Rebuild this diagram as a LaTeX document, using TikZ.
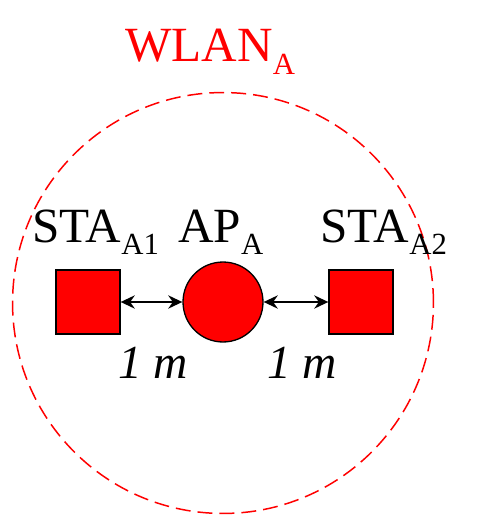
\documentclass[tikz,border=0pt]{standalone}
\usepackage{fontspec}
\setmainfont{Liberation Serif}
\usetikzlibrary{shapes, arrows.meta, positioning}

\newcommand{\lowsub}[1]{\raisebox{-7pt}{\fontsize{17.5}{20}\selectfont #1}}

\begin{document}
\begin{tikzpicture}[
        x=0.02cm, y=-0.02cm,
        station/.style={rectangle, draw, fill=red, line width=0.75pt, minimum size=1.28cm, inner sep=0pt},
        accesspoint/.style={circle, draw, fill=red, line width=0.75pt, minimum size=1.6cm, inner sep=0pt},
        tag/.style={anchor=base west, inner sep=0pt, font=\fontsize{28}{32}\selectfont},
        link/.style={line width=1.4pt, {Stealth[length=8pt,width=7.5pt]}-{Stealth[length=8pt,width=7.5pt]}},
        coverage/.style={draw=red, dash pattern=on 8.5pt off 4pt, line width=0.85pt}
    ]
    \useasboundingbox (0,0) rectangle (488,517);

    % Coverage area of the WLAN
    \node [coverage, circle, minimum size=8.42cm, inner sep=0pt] (wlan) at (223,303) {};
    \node [tag, text=red] (wlanlabel) at (125,62) {WLAN\lowsub{A}};

    % Devices
    \node [station] (sta1) at (88,302) {};
    \node [accesspoint] (ap) at (223,302) {};
    \node [station] (sta2) at (361,302) {};

    % Device names
    \node [tag] (sta1label) at (32,242) {STA\lowsub{A1}};
    \node [tag] (aplabel) at (178,242) {AP\lowsub{A}};
    \node [tag] (sta2label) at (320,242) {STA\lowsub{A2}};

    % Links
    \draw [link] (sta1.east) -- (ap.west);
    \draw [link] (ap.east) -- (sta2.west);

    % Distances
    \node [tag, font=\fontsize{27}{31}\selectfont\itshape] (dist1) at (118,378) {1 m};
    \node [tag, font=\fontsize{27}{31}\selectfont\itshape] (dist2) at (267,378) {1 m};

    \end{tikzpicture}
\end{document}
